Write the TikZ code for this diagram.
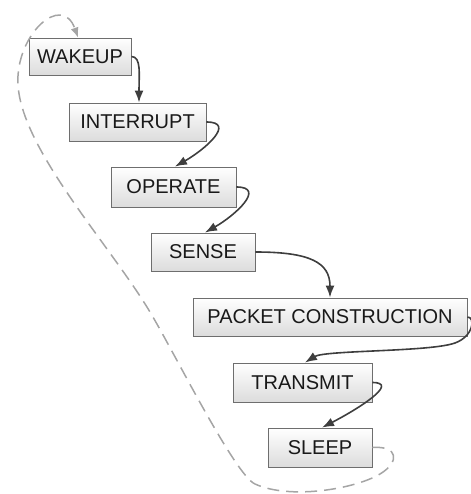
\documentclass[tikz,border=0pt]{standalone}
\usepackage{fontspec}
\setmainfont{Liberation Sans}
\usetikzlibrary{arrows.meta,calc}
\definecolor{boxline}{RGB}{110,110,110}
\definecolor{boxbottom}{RGB}{220,220,220}
\definecolor{arrowcol}{RGB}{62,62,62}
\definecolor{dashcol}{RGB}{165,165,165}
\definecolor{textcol}{RGB}{25,25,25}
\begin{document}
\begin{tikzpicture}[x=1pt,y=1pt,
  stepbox/.style={draw=boxline, line width=0.9pt, top color=white, bottom color=boxbottom,
    inner sep=0pt, font=\fontsize{20}{24}\selectfont, text=textcol},
  flow/.style={draw=arrowcol, line width=1.6pt, -{Latex[length=12pt,width=9pt]}},
  back/.style={draw=dashcol, line width=1.5pt, dash pattern=on 12pt off 7pt,
    -{Latex[length=10pt,width=8pt]}}
]
\useasboundingbox (0,0) rectangle (470,-494);

% process steps
\node[stepbox, minimum width=102pt, minimum height=37pt] (wakeup)    at (80,-56.5)    {WAKEUP};
\node[stepbox, minimum width=137pt, minimum height=38pt] (interrupt) at (137.5,-122)  {INTERRUPT};
\node[stepbox, minimum width=125pt, minimum height=40pt] (operate)   at (173.5,-187)  {OPERATE};
\node[stepbox, minimum width=104pt, minimum height=38pt] (sense)     at (203,-252)    {SENSE};
\node[stepbox, minimum width=274pt, minimum height=38pt] (packet)    at (330,-317)    {PACKET CONSTRUCTION};
\node[stepbox, minimum width=139pt, minimum height=39pt] (transmit)  at (302.5,-382.5) {TRANSMIT};
\node[stepbox, minimum width=104pt, minimum height=39pt] (sleep)     at (320,-447.5)  {SLEEP};

% forward transitions
\draw[flow] (wakeup.east) .. controls +(10,0) and +(0,28) .. ($(interrupt.north)+(1.5,0)$);
\draw[flow] (interrupt.east) .. controls +(30,0) and +(30,17) .. ($(operate.north)+(1.5,0)$);
\draw[flow] (operate.east) .. controls +(30,0) and +(30,17) .. ($(sense.north)+(2,0)$);
\draw[flow] (sense.east) .. controls +(55,0) and +(0,35) .. (packet.north);
\draw[flow] (packet.east) .. controls +(8,0) and (474,-336) .. (455,-343)
  .. controls (430,-352) and (325,-350) .. ($(transmit.north)+(2.5,0)$);
\draw[flow] (transmit.east) .. controls +(28,0) and +(35,18) .. ($(sleep.north)+(2,0)$);

% return from sleep back to wakeup
\draw[back] (sleep.east) .. controls +(26,2) and (400,-462) .. (380,-474)
  .. controls (355,-489) and (290,-500) .. (255,-484)
  .. controls (235,-475) and (174,-352) .. (150,-312)
  .. controls (110,-245) and (22,-150) .. (18,-85)
  .. controls (15,-35) and (62,8) .. ($(wakeup.north)+(-2,0)$);
\end{tikzpicture}
\end{document}
